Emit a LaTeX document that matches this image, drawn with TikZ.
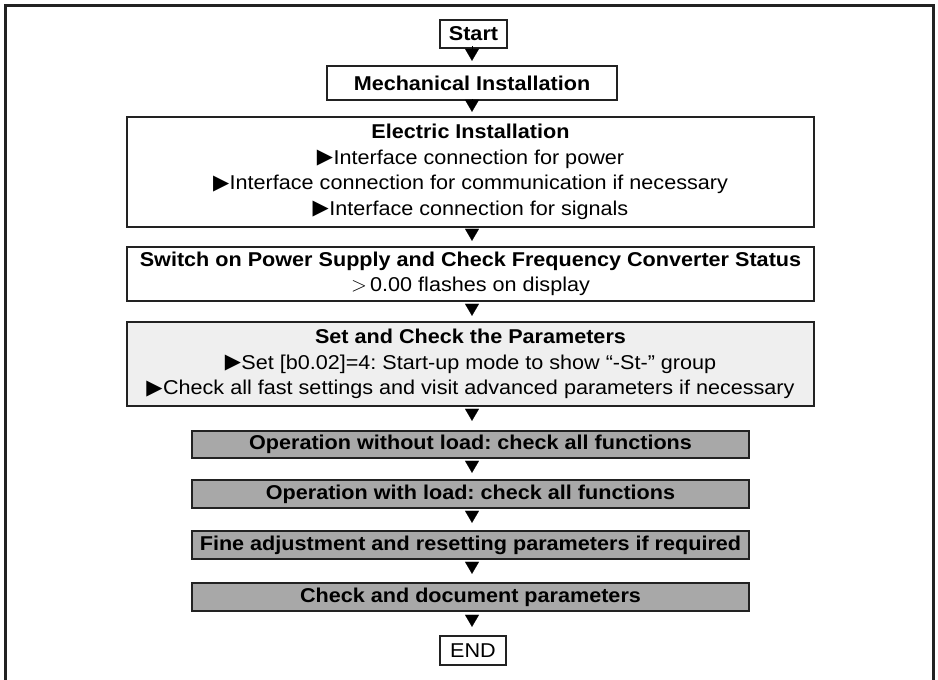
\documentclass[tikz,border=0pt]{standalone}
\usepackage{fontspec}
\setmainfont{Liberation Sans}[FakeStretch=1.08]
\newfontfamily\symfont{DejaVu Sans}
\usetikzlibrary{arrows.meta}
\definecolor{lightbox}{HTML}{EFEFEF}
\definecolor{greybox}{HTML}{A8A8A8}
\definecolor{edge}{HTML}{222222}
\newcommand{\tri}{\raisebox{0.5pt}{\symfont\fontsize{21}{21}\selectfont ▶}\kern0.5pt}
\tikzset{
  box/.style={draw=edge, line width=2.4pt, inner sep=0pt, align=center,
    font=\fontsize{20}{25.5}\selectfont\frenchspacing},
  flow/.style={-{Triangle[width=14pt,length=12pt]}, line width=0.1pt, draw=black, fill=black},
}
\begin{document}
\begin{tikzpicture}[x=1pt,y=-1pt]
\useasboundingbox (0,0) rectangle (938,680);
\draw[line width=3pt, draw=edge] (5,5) rectangle (933,700);

\node[box, minimum width=67pt, minimum height=28pt] (start) at (473.5,34) {\bfseries Start};
\node[box, minimum width=290pt, minimum height=34pt] (mech) at (472,83) {\bfseries Mechanical Installation};
\node[box, minimum width=687pt, minimum height=110pt] (elec) at (470.5,172)
  {\textbf{Electric Installation}\\ \tri Interface connection for power\\ \tri Interface connection for communication if necessary\\ \tri Interface connection for signals};
\node[box, minimum width=687pt, minimum height=54pt] (sw) at (470.5,274)
  {\textbf{Switch on Power Supply and Check Frequency Converter Status}\\ $>$\,0.00 flashes on display};
\node[box, fill=lightbox, minimum width=687pt, minimum height=84pt] (set) at (470.5,364)
  {\textbf{Set and Check the Parameters}\\ \tri Set [b0.02]=4: Start-up mode to show “-St-” group\\ \tri Check all fast settings and visit advanced parameters if necessary};
\node[box, fill=greybox, minimum width=557pt, minimum height=27pt] (op1) at (470.5,444.5) {\bfseries Operation without load: check all functions};
\node[box, fill=greybox, minimum width=557pt, minimum height=28pt] (op2) at (470.5,494) {\bfseries Operation with load: check all functions};
\node[box, fill=greybox, minimum width=557pt, minimum height=28pt] (fine) at (470.5,545) {\bfseries Fine adjustment and resetting parameters if required};
\node[box, fill=greybox, minimum width=557pt, minimum height=28pt] (chk) at (470.5,597) {\bfseries Check and document parameters};
\node[box, minimum width=66pt, minimum height=29pt] (end) at (473,650.5) {END};

\draw[flow, shorten <=3pt, shorten >=4pt] (start.south -| 472,0) -- (mech.north -| 472,0);
\draw[flow, shorten <=2pt, shorten >=4pt] (mech.south -| 472,0) -- (elec.north -| 472,0);
\draw[flow, shorten <=4pt, shorten >=5pt] (elec.south -| 472,0) -- (sw.north -| 472,0);
\draw[flow, shorten <=5pt, shorten >=5pt] (sw.south -| 472,0) -- (set.north -| 472,0);
\draw[flow, shorten <=4pt, shorten >=9pt] (set.south -| 472,0) -- (op1.north -| 472,0);
\draw[flow, shorten <=3pt, shorten >=6pt] (op1.south -| 472,0) -- (op2.north -| 472,0);
\draw[flow, shorten <=4pt, shorten >=7pt] (op2.south -| 472,0) -- (fine.north -| 472,0);
\draw[flow, shorten <=5pt, shorten >=8pt] (fine.south -| 472,0) -- (chk.north -| 472,0);
\draw[flow, shorten <=5pt, shorten >=8pt] (chk.south -| 472,0) -- (end.north -| 472,0);
\end{tikzpicture}
\end{document}
